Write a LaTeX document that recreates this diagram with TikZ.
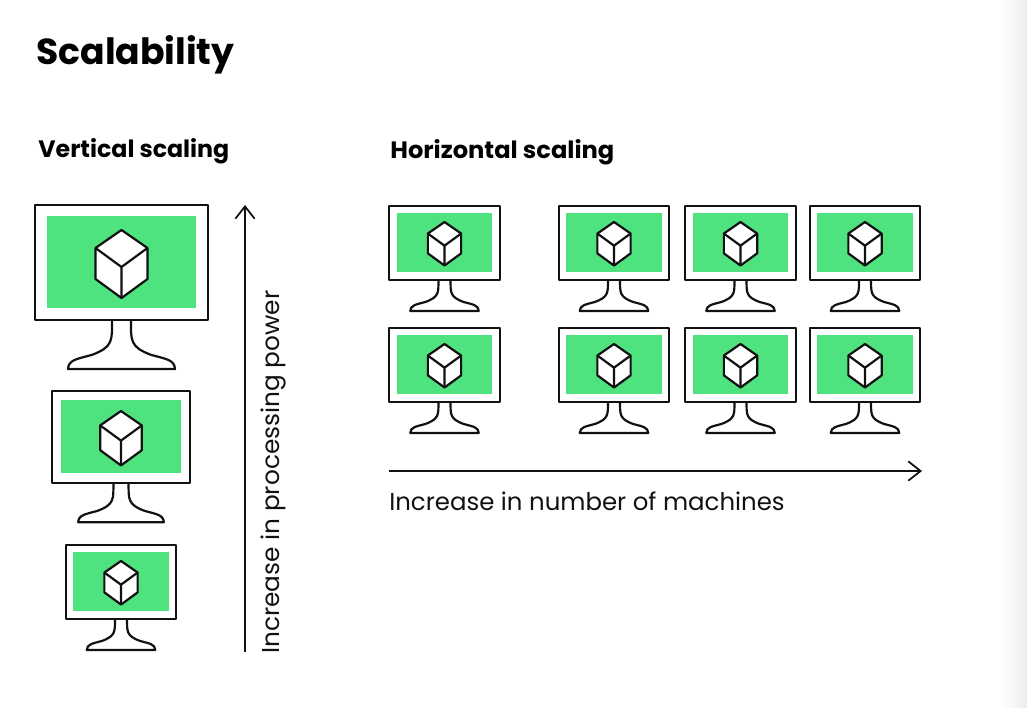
\documentclass[tikz,border=0pt]{standalone}
\usepackage{fontspec}
\setmainfont{Poppins}
\usetikzlibrary{arrows.meta}
\definecolor{screengreen}{HTML}{4FE380}
\definecolor{inkblack}{HTML}{111111}
\tikzset{
  outline/.style={draw=inkblack, line width=1.25pt, line join=round},
  axis/.style={draw=inkblack, line width=1pt, -{Straight Barb[length=7pt, width=11pt]}},
  titletext/.style={anchor=west, inner sep=0pt, text=black, font=\fontsize{20.6}{25}\selectfont\bfseries},
  headtext/.style={anchor=west, inner sep=0pt, text=black, font=\fontsize{13.5}{16}\selectfont\bfseries},
  axistext/.style={anchor=west, inner sep=0pt, text=inkblack, font=\fontsize{13.9}{16}\selectfont},
  pics/machine/.style={code={
    \draw[outline, fill=white] (-9.5,115) .. controls (-9.5,135) and (-8,142) .. (-30,150)
      .. controls (-45,154) and (-53,155) .. (-53.5,164) -- (53.5,164)
      .. controls (53,155) and (45,154) .. (30,150)
      .. controls (8,142) and (9.5,135) .. (9.5,115);
    \draw[outline, fill=white] (-86.5,0) rectangle (86.5,115);
    \fill[screengreen] (-74.5,11) rectangle (74.5,103);
    \draw[outline, fill=white] (0,25) -- (26,43) -- (26,74) -- (0,93) -- (-26,74) -- (-26,43) -- cycle;
    \draw[outline] (-26,43) -- (0,62) -- (26,43) (0,62) -- (0,93);
  }}
}
\begin{document}
\begin{tikzpicture}[x=0.02cm, y=-0.02cm]
  \useasboundingbox (0,0) rectangle (1027,707);
  \shade[left color=white, right color=black!7] (1000,0) rectangle (1027,707);

  \node[titletext] (title) at (36,55) {Scalability};
  \node[headtext] (vertical) at (38,151) {Vertical scaling};
  \node[headtext, xscale=1.018] (horizontal) at (390,152) {Horizontal scaling};

  % vertical scaling
  \pic at (121.5,205) {machine};
  \pic[scale=0.8] at (121,391) {machine};
  \pic[scale=0.64] at (121,545) {machine};

  % horizontal scaling
  \foreach \col in {444.5,614,740.5,865}
    \foreach \row in {206,328}
      \pic[scale=0.64] at (\col,\row) {machine};

  \coordinate (powerstart) at (245,652);
  \coordinate (powerend) at (245,205);
  \draw[axis] (powerstart) -- (powerend);
  \node[axistext, rotate=90, xscale=1.015] (powerlabel) at (274,654) {Increase in processing power};

  \coordinate (countstart) at (389,471);
  \coordinate (countend) at (922,471);
  \draw[axis] (countstart) -- (countend);
  \node[axistext] (countlabel) at (389,501) {Increase in number of machines};
\end{tikzpicture}
\end{document}
